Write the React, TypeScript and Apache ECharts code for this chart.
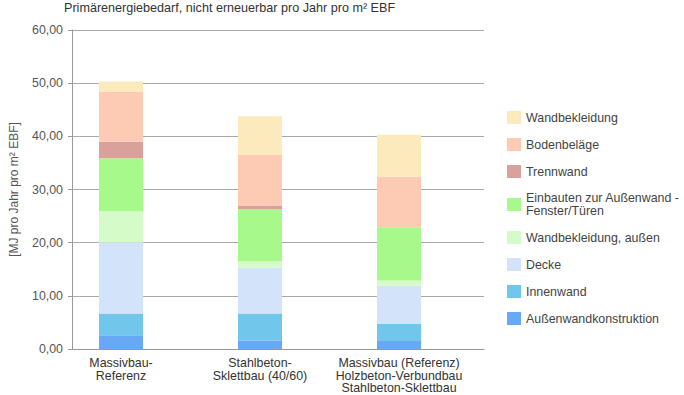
import React, { useEffect, useRef } from "react";
import * as echarts from "echarts";

const title = "Primärenergiebedarf, nicht erneuerbar pro Jahr pro m² EBF";
const yAxisName = "[MJ pro Jahr pro m² EBF]";
const categories = [
  "Massivbau-\nReferenz",
  "Stahlbeton-\nSklettbau (40/60)",
  "Massivbau (Referenz)\nHolzbeton-Verbundbau\nStahlbeton-Sklettbau",
];

// bottom to top
const seriesNames = [
  "Außenwandkonstruktion",
  "Innenwand",
  "Decke",
  "Wandbekleidung, außen",
  "Einbauten zur Außenwand - Fenster/Türen",
  "Trennwand",
  "Bodenbeläge",
  "Wandbekleidung",
];
const aussenwand = [2.6, 1.6, 1.5];
const innenwand = [4.1, 5.1, 3.2];
const decke = [13.4, 8.6, 7.2];
const wandAussen = [5.8, 1.2, 1.0];
const einbauten = [10.0, 9.8, 10.0];
const trennwand = [3.1, 0.7, 0];
const bodenbelaege = [9.4, 9.5, 9.5];
const wandbekleidung = [1.9, 7.3, 7.9];
const seriesValues = [aussenwand, innenwand, decke, wandAussen, einbauten, trennwand, bodenbelaege, wandbekleidung];
const colors = ["#68A8F5", "#70C6EB", "#D3E4FA", "#D5FCC8", "#A8F98C", "#D9A09C", "#FDCBB4", "#FCE9BC"];

const yTicks = { min: 0, max: 60, interval: 10 };

export default function App() {
  const ref = useRef<HTMLDivElement>(null);
  useEffect(() => {
    document.body.style.margin = "0";
    if (!ref.current) return;
    const chart = echarts.init(ref.current, undefined, { renderer: "svg" });
    const font = "'Liberation Sans', Arial, sans-serif";
    const gridTop = 30;
    const gridBottom = 46;
    chart.setOption({
      animation: false,
      backgroundColor: "#ffffff",
      textStyle: { fontFamily: font },
      title: {
        text: title,
        left: 64,
        top: 1,
        padding: 0,
        textStyle: { fontSize: 12.6, fontWeight: "normal", color: "#333", fontFamily: font },
      },
      grid: [
        { left: 65, right: 200, top: gridTop, bottom: gridBottom },
        { left: 51.5, width: 417, top: gridTop, bottom: gridBottom },
      ],
      xAxis: [
        {
          gridIndex: 0,
          type: "value",
          min: 0,
          max: 1,
          axisLine: { show: true, lineStyle: { color: "#999", width: 1 } },
          axisTick: { show: false },
          axisLabel: { show: false },
          splitLine: { show: false },
        },
        {
          gridIndex: 1,
          type: "category",
          data: categories,
          axisLine: { show: false },
          axisTick: { show: false },
          axisLabel: { color: "#333", fontSize: 12.4, lineHeight: 12.5, margin: 8, fontFamily: font, interval: 0 },
        },
      ],
      yAxis: [
        {
          gridIndex: 0,
          type: "value",
          min: yTicks.min,
          max: yTicks.max,
          interval: yTicks.interval,
          name: yAxisName,
          nameLocation: "middle",
          nameGap: 52,
          nameTextStyle: { color: "#555", fontSize: 12, fontFamily: font },
          axisLine: { show: true, lineStyle: { color: "#999", width: 1 } },
          axisTick: { show: true, length: 4, lineStyle: { color: "#999" } },
          axisLabel: {
            color: "#555",
            fontSize: 12.4,
            margin: 9,
            fontFamily: font,
            formatter: (v: number) => v.toFixed(2).replace(".", ","),
          },
          splitLine: { show: true, lineStyle: { color: "#AAAAAA", width: 1 } },
        },
        {
          gridIndex: 1,
          type: "value",
          min: yTicks.min,
          max: yTicks.max,
          interval: yTicks.interval,
          show: false,
          splitLine: { show: false },
        },
      ],
      legend: {
        orient: "vertical",
        left: 502,
        top: 106,
        itemWidth: 14,
        itemHeight: 13,
        itemGap: 14,
        icon: "rect",
        data: [...seriesNames].reverse(),
        formatter: (name: string) => name.replace(" - ", " -\n"),
        textStyle: { color: "#444", fontSize: 12.4, lineHeight: 12.5, fontFamily: font },
      },
      series: seriesNames.map((name, i) => ({
        name,
        type: "bar",
        stack: "total",
        xAxisIndex: 1,
        yAxisIndex: 1,
        barWidth: 44,
        data: seriesValues[i],
        itemStyle: { color: colors[i] },
      })),
    });
    return () => chart.dispose();
  }, []);
  return <div ref={ref} style={{ width: 684, height: 395 }} />;
}
